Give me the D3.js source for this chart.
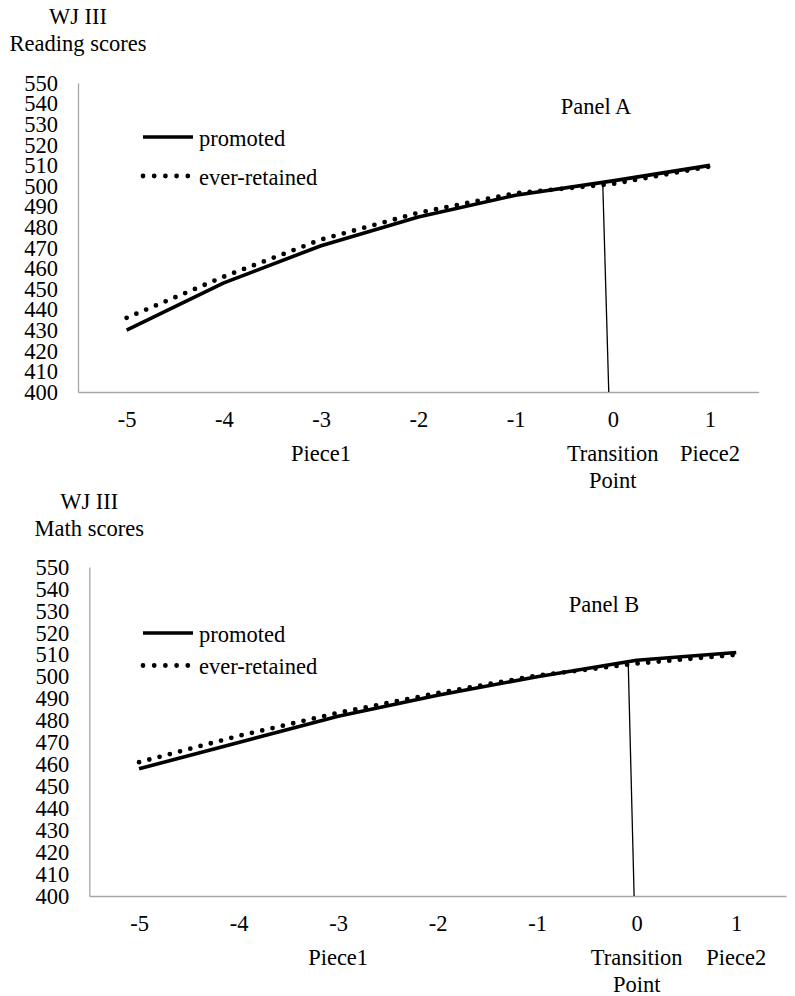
<!DOCTYPE html>
<html>
<head>
<meta charset="utf-8">
<script src="https://cdn.jsdelivr.net/npm/d3@7"></script>
<style>
  html, body { margin: 0; padding: 0; background: #fff; }
  svg { display: block; }
  text { font-family: "Liberation Serif", "Times New Roman", serif; fill: #000; }
</style>
</head>
<body>
<svg id="chart" width="795" height="996"></svg>
<script>
// ---- Data ----
const categories = [-5, -4, -3, -2, -1, 0, 1];
const groupLabels = ["", "", "Piece1", "", "", "Transition|Point", "Piece2"];
const yTicks = [400, 410, 420, 430, 440, 450, 460, 470, 480, 490, 500, 510, 520, 530, 540, 550];
const seriesNames = ["promoted", "ever-retained"];

const readingPromoted = [430, 453, 471, 485, 495.5, 502.5, 510];
const readingRetained = [436, 456, 474, 487, 496.5, 501, 509.5];
const mathPromoted = [458, 470, 482, 491.5, 500, 507.5, 511];
const mathRetained = [461, 473, 483.5, 492.5, 500.5, 506, 510];

// hand-drawn transition marker (category position, score)
const readingTransition = [[-0.103, 501.5], [-0.041, 400]];
const mathTransition = [[-0.086, 507.6], [-0.026, 400]];

const titlesA = ["WJ III", "Reading scores"];
const titlesB = ["WJ III", "Math scores"];

// ---- Drawing ----
const svg = d3.select("#chart");
svg.append("rect").attr("width", 795).attr("height", 996).attr("fill", "#fff");

const FS = 22.5;

function drawPanel(opts) {
  const { left, right, top, bottom, promoted, retained, transition, titles, panelLabel } = opts;
  const x = d3.scaleLinear().domain([-5.5, 1.5]).range([left, right]);
  const y = d3.scaleLinear().domain([400, 550]).range([bottom, top]);
  const g = svg.append("g");

  // Y axis
  const yAxis = d3.axisLeft(y).tickValues(yTicks).tickSize(0).tickSizeOuter(0).tickPadding(20);
  const ya = g.append("g").attr("transform", `translate(${left},0)`).call(yAxis);
  ya.attr("font-family", null).attr("font-size", null);
  ya.select(".domain").attr("stroke", "#a6a6a6").attr("stroke-width", 1.3);
  ya.selectAll("text").style("font-size", FS + "px").attr("fill", "#000");

  // X axis
  const xAxis = d3.axisBottom(x).tickValues(categories).tickSize(0).tickSizeOuter(0).tickPadding(19.5)
    .tickFormat(d3.format("d"));
  const xa = g.append("g").attr("transform", `translate(0,${bottom})`).call(xAxis);
  xa.attr("font-family", null).attr("font-size", null);
  xa.select(".domain").attr("stroke", "#a6a6a6").attr("stroke-width", 1.3);
  xa.selectAll("text").style("font-size", FS + "px").attr("fill", "#000")
    .text(d => d < 0 ? "-" + Math.abs(d) : String(d));

  // group labels
  categories.forEach((c, i) => {
    const lbl = groupLabels[i];
    if (!lbl) return;
    lbl.split("|").forEach((part, k) => {
      g.append("text").attr("x", x(c)).attr("y", bottom + 69 + k * 26.5)
        .attr("text-anchor", "middle").style("font-size", FS + "px").text(part);
    });
  });

  // axis titles
  g.append("text").attr("x", left).attr("y", opts.titleY).attr("text-anchor", "middle")
    .style("font-size", FS + "px").text(titles[0]);
  g.append("text").attr("x", left).attr("y", opts.titleY + 26.5).attr("text-anchor", "middle")
    .style("font-size", FS + "px").text(titles[1]);

  // panel label
  g.append("text").attr("x", opts.panelX).attr("y", opts.panelY).attr("text-anchor", "middle")
    .style("font-size", FS + "px").text(panelLabel);

  const line = d3.line().x((d, i) => x(categories[i])).y(d => y(d));

  // transition line
  g.append("line")
    .attr("x1", x(transition[0][0])).attr("y1", y(transition[0][1]))
    .attr("x2", x(transition[1][0])).attr("y2", y(transition[1][1]))
    .attr("stroke", "#000").attr("stroke-width", 1.3);

  // series
  g.append("path").datum(retained).attr("d", line).attr("fill", "none")
    .attr("stroke", "#000").attr("stroke-width", 4.8)
    .attr("stroke-linecap", "round").attr("stroke-dasharray", "0 10.6");
  g.append("path").datum(promoted).attr("d", line).attr("fill", "none")
    .attr("stroke", "#000").attr("stroke-width", 3.6).attr("stroke-linejoin", "round");

  // legend
  const lx0 = 143, lx1 = 193;
  g.append("line").attr("x1", lx0).attr("x2", lx1).attr("y1", opts.legY[0]).attr("y2", opts.legY[0])
    .attr("stroke", "#000").attr("stroke-width", 3.6);
  g.append("text").attr("x", 199).attr("y", opts.legY[0] + 8.5).style("font-size", FS + "px").text(seriesNames[0]);
  g.append("line").attr("x1", lx0).attr("x2", lx1 - 1).attr("y1", opts.legY[1]).attr("y2", opts.legY[1])
    .attr("stroke", "#000").attr("stroke-width", 4.8)
    .attr("stroke-linecap", "round").attr("stroke-dasharray", "0 11.2");
  g.append("text").attr("x", 199).attr("y", opts.legY[1] + 8.5).style("font-size", FS + "px").text(seriesNames[1]);
}

drawPanel({
  left: 78, right: 758.6, top: 83, bottom: 392,
  promoted: readingPromoted, retained: readingRetained, transition: readingTransition,
  titles: titlesA, titleY: 24, panelLabel: "Panel A", panelX: 596, panelY: 114,
  legY: [137, 176]
});

drawPanel({
  left: 89.3, right: 786, top: 567, bottom: 896,
  promoted: mathPromoted, retained: mathRetained, transition: mathTransition,
  titles: titlesB, titleY: 509, panelLabel: "Panel B", panelX: 604, panelY: 612,
  legY: [633, 665.5]
});
</script>
</body>
</html>
